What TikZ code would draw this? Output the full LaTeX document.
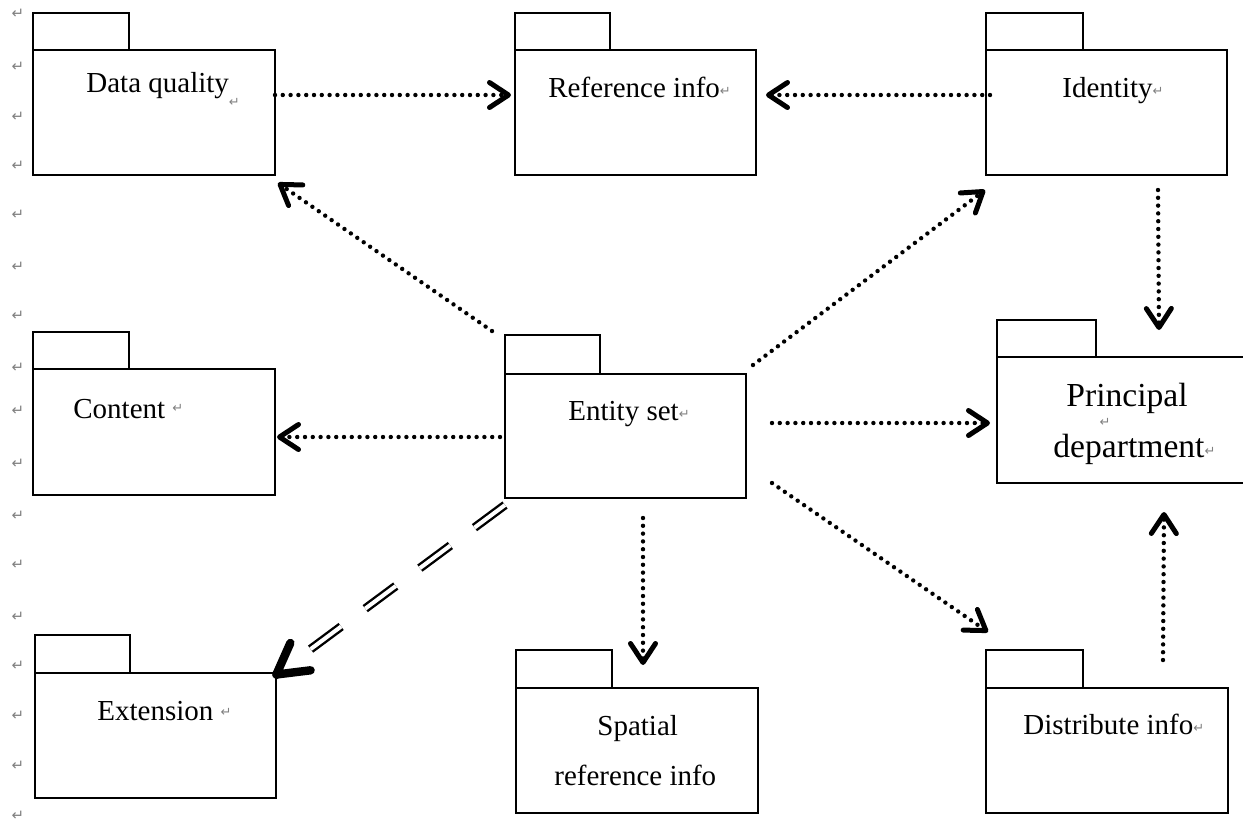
\documentclass[tikz,border=0pt]{standalone}
\usepackage{fontspec}
\setmainfont{Liberation Serif}
\newfontfamily\markfont{DejaVu Sans}
\usetikzlibrary{arrows.meta,calc}

% gray paragraph mark that follows a label
\newcommand\parmark[1][1pt]{\raisebox{#1}{\markfont\fontsize{6.5}{7}\selectfont\textcolor{black!50}{↵}}}

\tikzset{
  pkgline/.style={draw=black, line width=0.75pt},
  pkgbody/.style={pkgline, rectangle, inner sep=0pt, outer sep=0pt},
  pkgtext/.style={inner sep=0pt, anchor=base west, font=\fontsize{14.5}{17}\selectfont},
  bigtext/.style={pkgtext, font=\fontsize{16.8}{20}\selectfont},
  marginmark/.style={inner sep=0pt, text=black!50, font=\markfont\fontsize{7.5}{8}\selectfont},
  dep/.style={line width=2.2pt, line cap=round, dash pattern=on 0pt off 3.9pt,
    -{Straight Barb[length=9.5pt, width=12.5pt, line width=2.5pt, round]}},
  extline/.style={line width=1.2pt, double, double distance=2pt,
    dash pattern=on 19pt off 15pt, shorten >=20pt},
  exthead/.style={line width=4.2pt, -{Straight Barb[length=15pt, width=17pt, round]}},
}

% package symbol: body node plus tab on its upper left corner
% #1 name, #2 x1, #3 y1, #4 x2, #5 y2, #6 tab width, #7 tab height
\newcommand\pkgbox[7]{%
  \node[pkgbody, minimum width={(#4-#2)*0.5pt}, minimum height={(#5-#3)*0.5pt}]
    (#1) at ({(#2+#4)/2},{(#3+#5)/2}) {};
  \draw[pkgline] (#1.north west) rectangle ++(#6,-#7);
}

\begin{document}
\begin{tikzpicture}[x=0.5pt, y=-0.5pt]
\useasboundingbox (0,0) rectangle (1243,827);

% margin paragraph marks
\foreach \yy [count=\i] in {14,67,117,166,215,267,316,368,411,464,516,565,617,666,716,766,816}
  \node[marginmark] (mm\i) at (18,\yy) {↵};

% packages
\pkgbox{dq}{33}{50}{275}{175}{96}{37}
\pkgbox{ri}{515}{50}{756}{175}{95}{37}
\pkgbox{id}{986}{50}{1227}{175}{97}{37}
\pkgbox{ct}{33}{369}{275}{495}{96}{37}
\pkgbox{es}{505}{374}{746}{498}{95}{39}
\pkgbox{pd}{997}{357}{1252}{483}{99}{37}
\pkgbox{ex}{35}{673}{276}{798}{95}{38}
\pkgbox{sr}{516}{688}{758}{813}{96}{38}
\pkgbox{di}{986}{688}{1228}{813}{97}{38}

% package names
\node[pkgtext] (dqt) at (86,92) {Data quality\parmark[-7pt]};
\node[pkgtext] (rit) at (548,97) {Reference info\parmark};
\node[pkgtext] (idt) at (1062,97) {Identity\parmark};
\node[pkgtext] (ctt) at (73,418) {Content \parmark[3pt]};
\node[pkgtext] (est) at (568,420) {Entity set\parmark};
\node[bigtext] (pdt1) at (1066,406) {Principal};
\node[marginmark, font=\markfont\fontsize{6.5}{7}\selectfont] (pdm) at (1105,422) {↵};
\node[bigtext] (pdt2) at (1053,457) {department\parmark};
\node[pkgtext] (ext) at (97,720) {Extension \parmark[2pt]};
\node[pkgtext] (srt1) at (597,735) {Spatial};
\node[pkgtext] (srt2) at (554,785) {reference info};
\node[pkgtext] (dit) at (1023,734) {Distribute info\parmark};

% dependencies
\draw[dep] ([yshift=8.75pt]dq.east) -- ([xshift=-2pt,yshift=8.75pt]ri.west);
\draw[dep] ([xshift=2pt,yshift=8.75pt]id.west) -- ([xshift=5pt,yshift=8.75pt]ri.east);
\draw[dep] ([xshift=-6.5pt,yshift=21.5pt]es.north west) -- ([xshift=1.5pt,yshift=-4pt]dq.south east);
\draw[dep] ([xshift=3.5pt,yshift=4.5pt]es.north east) -- ([xshift=-0.5pt,yshift=-7.5pt]id.south west);
\draw[dep] ([xshift=25.75pt,yshift=-7.5pt]id.south) -- ([xshift=17.25pt,yshift=13.5pt]pd.north);
\draw[dep] ([xshift=-2.5pt,yshift=-0.5pt]es.west) -- ([xshift=1pt,yshift=-2.5pt]ct.east);
\draw[dep] ([xshift=13pt,yshift=6.5pt]es.east) -- ([xshift=-3.5pt,yshift=-1.5pt]pd.west);
\draw[dep] ([xshift=13pt,yshift=-23.5pt]es.east) -- ([xshift=1pt,yshift=28pt]di.north west);
\draw[dep] ([xshift=8.75pt,yshift=-10pt]es.south) -- ([xshift=3pt,yshift=11.5pt]sr.north);
\draw[dep] ([xshift=28pt,yshift=14pt]di.north) -- ([xshift=19.75pt,yshift=-14.5pt]pd.south);

% extension relation
\coordinate (exs) at ([yshift=-3.5pt]es.south west);
\coordinate (ext) at ([xshift=-1.5pt,yshift=-2pt]ex.north east);
\draw[extline] (exs) -- (ext);
\draw[exthead] ($(ext)!1pt!(exs)$) -- (ext);
\end{tikzpicture}
\end{document}
